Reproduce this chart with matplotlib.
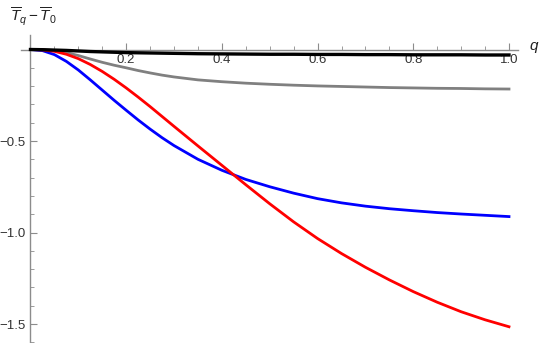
import numpy as np
import matplotlib
matplotlib.use("Agg")
import matplotlib.pyplot as plt
from matplotlib.ticker import FixedLocator, FixedFormatter

# values
q = [0, 0.025, 0.05, 0.075, 0.1, 0.125, 0.15, 0.175, 0.2, 0.225, 0.25, 0.275, 0.3, 0.35, 0.4,
     0.45, 0.5, 0.55, 0.6, 0.65, 0.7, 0.75, 0.8, 0.85, 0.9, 0.95, 1.0]
t_black = [0, -0.001, -0.003, -0.005, -0.008, -0.011, -0.013, -0.015, -0.017, -0.018, -0.019, -0.020,
           -0.021, -0.023, -0.024, -0.025, -0.026, -0.026, -0.027, -0.027, -0.028, -0.028, -0.029,
           -0.029, -0.029, -0.03, -0.03]
t_gray = [0, -0.001, -0.006, -0.017, -0.033, -0.052, -0.07, -0.086, -0.1, -0.115, -0.128, -0.14,
          -0.15, -0.166, -0.176, -0.184, -0.19, -0.195, -0.199, -0.202, -0.205, -0.208, -0.21,
          -0.212, -0.213, -0.215, -0.216]
t_blue = [0, -0.006, -0.028, -0.065, -0.112, -0.166, -0.222, -0.278, -0.332, -0.385, -0.435, -0.482,
          -0.525, -0.6, -0.66, -0.71, -0.75, -0.785, -0.815, -0.838, -0.856, -0.87, -0.881,
          -0.891, -0.899, -0.906, -0.913]
t_red = [0, -0.002, -0.01, -0.026, -0.05, -0.082, -0.12, -0.163, -0.21, -0.26, -0.312, -0.366,
         -0.42, -0.527, -0.633, -0.739, -0.843, -0.942, -1.033, -1.115, -1.19, -1.259, -1.323,
         -1.381, -1.433, -1.477, -1.515]

x_major = [0.2, 0.4, 0.6, 0.8, 1.0]
x_labels = ["0.2", "0.4", "0.6", "0.8", "1.0"]
y_major = [-0.5, -1.0, -1.5]
y_labels = ["\u22120.5", "\u22121.0", "\u22121.5"]

plt.rcParams['font.family'] = ['Liberation Sans', 'DejaVu Sans']
plt.rcParams['mathtext.fontset'] = 'custom'
plt.rcParams['mathtext.rm'] = 'Liberation Sans'
plt.rcParams['mathtext.it'] = 'Liberation Sans:italic'

fig = plt.figure(figsize=(5.4, 3.43), dpi=100)
ax = fig.add_axes([0, 0, 1, 1])
ax.set_xlim(-0.0637, 1.0648)
ax.set_ylim(-1.6038, 0.2705)

axcol = "#8c8c8c"
for s in ["top", "right"]:
    ax.spines[s].set_visible(False)
ax.spines["bottom"].set_position(("data", 0))
ax.spines["left"].set_position(("data", 0))
ax.spines["bottom"].set_bounds(-0.02, 1.019)
ax.spines["left"].set_bounds(-1.604, 0.079)
for s in ["bottom", "left"]:
    ax.spines[s].set_color(axcol)
    ax.spines[s].set_linewidth(1.0)

ax.xaxis.set_major_locator(FixedLocator(x_major))
ax.xaxis.set_major_formatter(FixedFormatter(x_labels))
ax.xaxis.set_minor_locator(FixedLocator(np.arange(0.05, 1.01, 0.05)))
ax.yaxis.set_major_locator(FixedLocator(y_major))
ax.yaxis.set_major_formatter(FixedFormatter(y_labels))
ax.yaxis.set_minor_locator(FixedLocator(-np.arange(0.1, 1.61, 0.1)))
ax.tick_params(which="both", direction="in", color=axcol, labelsize=9.5, labelcolor="#333333")
ax.tick_params(which="major", length=5, width=0.8)
ax.tick_params(which="minor", length=3, width=0.6)
ax.tick_params(axis="x", pad=3)
ax.tick_params(axis="y", pad=3.5)

lw = 2.0
ax.plot(q, t_gray, color="#808080", lw=lw, zorder=3)
ax.plot(q, t_blue, color="#0000ff", lw=lw, zorder=3)
ax.plot(q, t_red, color="#ff0000", lw=lw, zorder=3)
ax.plot(q, t_black, color="black", lw=2.4, zorder=4)

fig.text(10 / 540, 1 - 17 / 343, r"$\overline{T}_q - \overline{T}_0$", fontsize=11,
         va="center", ha="left", color="#222222")
fig.text(529 / 540, 1 - 46 / 343, "q", fontsize=11, style="italic",
         va="center", ha="left", color="#222222")

fig.savefig("out.png", dpi=100)
